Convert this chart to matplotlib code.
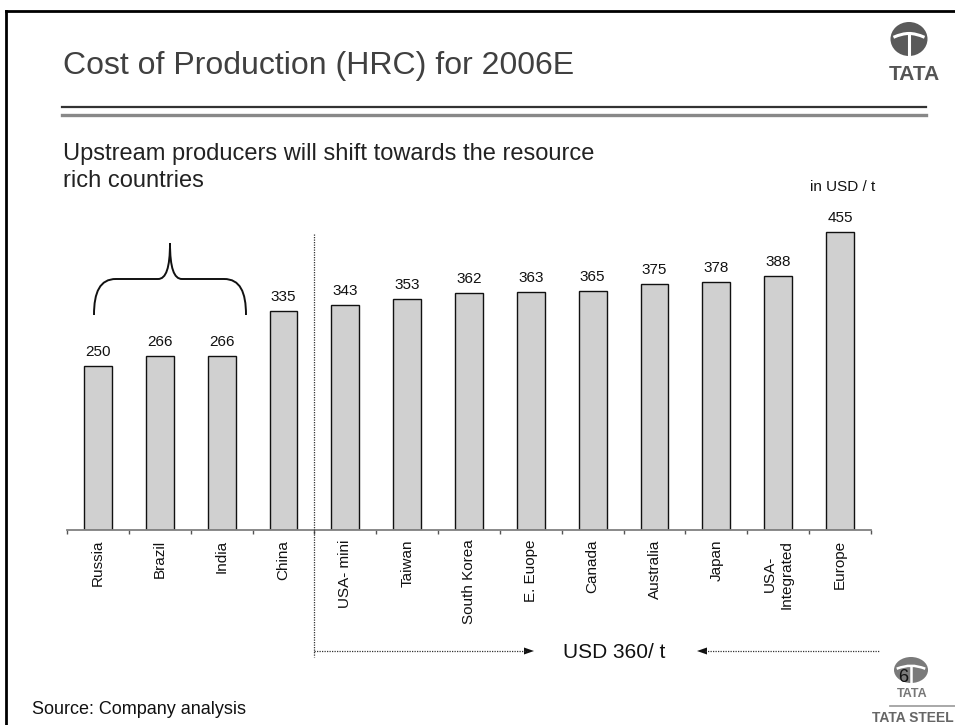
import matplotlib
matplotlib.use("Agg")
import matplotlib.pyplot as plt
from matplotlib.path import Path
from matplotlib.patches import PathPatch, Polygon, Ellipse
from matplotlib.lines import Line2D
import matplotlib.transforms as mtransforms

plt.rcParams['font.family'] = ['Liberation Sans', 'DejaVu Sans']

# ---- data ----
categories = ["Russia", "Brazil", "India", "China", "USA- mini", "Taiwan",
              "South Korea", "E. Euope", "Canada", "Australia", "Japan",
              "USA-\nIntegrated", "Europe"]
costs = [250, 266, 266, 335, 343, 353, 362, 363, 365, 375, 378, 388, 455]
separator_after = 3  # dotted divider between China and USA- mini

W, H = 955, 725
fig = plt.figure(figsize=(W / 100, H / 100), dpi=100)
fig.patch.set_facecolor("white")

# pixel transform (origin top-left)
pix = mtransforms.Affine2D().scale(1 / W, -1 / H).translate(0, 1) + fig.transFigure

# ---- axes ----
ax_left, ax_right, ax_bottom = 67, 871, 530
ymax = 480
px_per_unit = 0.655
ax_h = ymax * px_per_unit
ax = fig.add_axes([ax_left / W, 1 - ax_bottom / H, (ax_right - ax_left) / W, ax_h / H])
ax.set_xlim(-0.5, len(categories) - 0.5)
ax.set_ylim(0, ymax)
x = list(range(len(categories)))
bars = ax.bar(x, costs, width=0.45, color="#d0d0d0", edgecolor="#111111", linewidth=1.0)
for xi, v in zip(x, costs):
    ax.annotate(str(v), (xi, v), xytext=(0, 5), textcoords="offset points",
                ha="center", va="bottom", fontsize=11, color="#111111")

for s in ["top", "right", "left"]:
    ax.spines[s].set_visible(False)
ax.spines["bottom"].set_color("#808080")
ax.spines["bottom"].set_linewidth(1.3)
ax.set_yticks([])
ax.set_xticks(x)
ax.set_xticklabels(categories, rotation=90, fontsize=11, color="#111111")
ax.tick_params(axis="x", which="major", length=0, pad=7)
ax.set_xticks([i - 0.5 for i in range(len(categories) + 1)], minor=True)
ax.tick_params(axis="x", which="minor", length=3, width=1.0, color="#555555", direction="out")

# ---- dotted separator and arrows ----
blend = mtransforms.blended_transform_factory(ax.transData, pix)
sep_x = separator_after + 0.5
fig.add_artist(Line2D([sep_x, sep_x], [234, 657], transform=blend, color="#333333",
                      linewidth=0.9, linestyle=(0, (1, 1))))
fig.add_artist(Line2D([314, 527], [651, 651], transform=pix, color="#333333",
                      linewidth=0.9, linestyle=(0, (1, 1))))
fig.add_artist(Polygon([[534, 651], [524, 647.5], [524, 654.5]], closed=True,
                       transform=pix, facecolor="#111111", edgecolor="none"))
fig.add_artist(Line2D([705, 880], [651, 651], transform=pix, color="#333333",
                      linewidth=0.9, linestyle=(0, (1, 1))))
fig.add_artist(Polygon([[697, 651], [707, 647.5], [707, 654.5]], closed=True,
                       transform=pix, facecolor="#111111", edgecolor="none"))
fig.text(563 / W, 1 - 652 / H, "USD 360/ t", fontsize=15, ha="left", va="center", color="#111111")

# ---- brace over Russia..India ----
verts = [(94, 315), (94, 292), (100, 279), (116, 279),
         (158, 279),
         (166, 279), (170, 268), (170, 243),
         (170, 268), (174, 279), (182, 279),
         (224, 279),
         (240, 279), (246, 292), (246, 315)]
codes = [Path.MOVETO, Path.CURVE4, Path.CURVE4, Path.CURVE4,
         Path.LINETO,
         Path.CURVE4, Path.CURVE4, Path.CURVE4,
         Path.CURVE4, Path.CURVE4, Path.CURVE4,
         Path.LINETO,
         Path.CURVE4, Path.CURVE4, Path.CURVE4]
fig.add_artist(PathPatch(Path(verts, codes), transform=pix, facecolor="none",
                         edgecolor="#111111", linewidth=1.4))

# ---- slide texts ----
fig.text(63 / W, 1 - 74 / H, "Cost of Production (HRC) for 2006E", fontsize=23,
         ha="left", va="baseline", color="#404040")
fig.text(63 / W, 1 - 160 / H, "Upstream producers will shift towards the resource",
         fontsize=17, ha="left", va="baseline", color="#222222")
fig.text(63 / W, 1 - 187 / H, "rich countries", fontsize=17, ha="left", va="baseline",
         color="#222222")
fig.text(843 / W, 1 - 187 / H, "in USD / t", fontsize=11, ha="center", va="center",
         color="#111111")
fig.text(32 / W, 1 - 710 / H, "Source: Company analysis", fontsize=13, ha="left",
         va="center", color="#111111")

# ---- frame and rules ----
fig.add_artist(Line2D([6, 6], [11, 725], transform=pix, color="black", linewidth=2))
fig.add_artist(Line2D([6, 955], [11, 11], transform=pix, color="black", linewidth=2))
fig.add_artist(Line2D([62, 926], [107, 107], transform=pix, color="#333333", linewidth=1.6))
fig.add_artist(Line2D([62, 926], [115.5, 115.5], transform=pix, color="#888888", linewidth=2.4))

# ---- logos ----
def tata_symbol(cx, cy, w, h, color, lw):
    fig.add_artist(Ellipse((cx, cy), w, h, transform=pix, facecolor=color, edgecolor="none"))
    arc = Path([(cx - w * 0.42, cy - h * 0.05), (cx - w * 0.1, cy - h * 0.2),
                (cx + w * 0.1, cy - h * 0.2), (cx + w * 0.42, cy - h * 0.05)],
               [Path.MOVETO, Path.CURVE4, Path.CURVE4, Path.CURVE4])
    fig.add_artist(PathPatch(arc, transform=pix, facecolor="none", edgecolor="white", linewidth=lw))
    fig.add_artist(Line2D([cx, cx], [cy - h * 0.17, cy + h * 0.55], transform=pix,
                          color="white", linewidth=lw))

tata_symbol(909, 39, 37, 34, "#5a5a5a", 2.2)
fig.text(914 / W, 1 - 74 / H, "TATA", fontsize=15, fontweight="bold", ha="center",
         va="center", color="#555555")
tata_symbol(911, 670, 34, 26, "#7a7a7a", 1.8)
fig.text(912 / W, 1 - 694 / H, "TATA", fontsize=9, fontweight="bold", ha="center",
         va="center", color="#777777")
fig.add_artist(Line2D([890, 955], [706, 706], transform=pix, color="#999999", linewidth=1.2))
fig.text(872 / W, 1 - 718 / H, "TATA STEEL", fontsize=10, fontweight="bold", ha="left",
         va="center", color="#666666")
fig.text(903 / W, 1 - 678 / H, "6", fontsize=13, ha="center", va="center", color="#111111")

fig.savefig("out.png", dpi=100, facecolor="white")
